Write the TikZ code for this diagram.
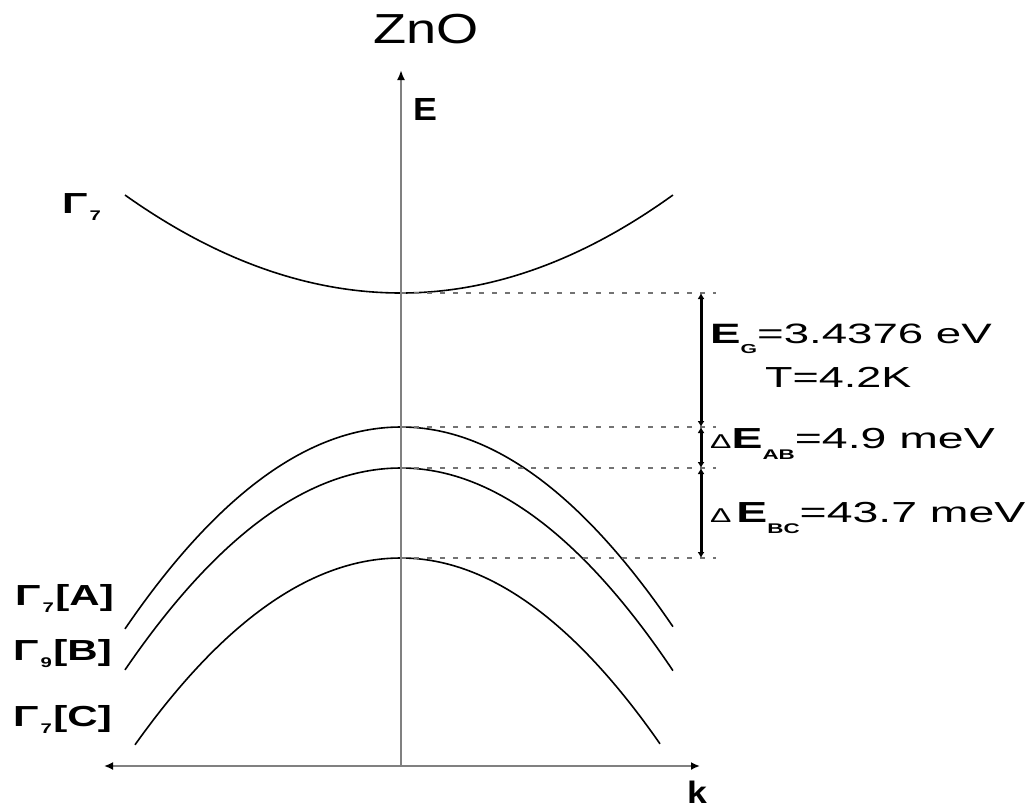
\documentclass[tikz,border=0pt]{standalone}
\usepackage{fontspec}
\setmainfont{Liberation Sans}
\usetikzlibrary{arrows.meta}
\newcommand{\fs}[1]{\fontsize{#1}{#1}\selectfont}
\newcommand{\gam}[2]{\scalebox{1.45}[1]{\fs{29}\bfseries Γ\kern1.5pt\raisebox{-7pt}{\fs{14}#1}\kern1pt#2}}
\begin{document}
\begin{tikzpicture}[x=1pt,y=-1pt,
  band/.style={line width=1.6pt, black},
  axis/.style={line width=2.4pt, black!50},
  axtip/.style={line width=2.4pt, black!50, {Latex[length=9pt,width=8pt,black]}-{Latex[length=9pt,width=8pt,black]}},
  gap/.style={line width=3pt, black, {Latex[length=6pt,width=7pt]}-{Latex[length=6pt,width=7pt]}},
  guide/.style={line width=1.3pt, black!55, dash pattern=on 5pt off 8pt},
  lbl/.style={inner sep=0pt, anchor=base west},
]
\useasboundingbox (0,0) rectangle (1033,809);

% bands
\draw[band] plot[domain=-2.76:0,samples=50,smooth] ({401+100*\x},{293-12.86*\x*\x})
   -- plot[domain=0:2.72,samples=50,smooth] ({401+100*\x},{293-13.25*\x*\x});
\draw[band] plot[domain=-2.76:0,samples=50,smooth] ({401+100*\x},{427+26.5*\x*\x})
   -- plot[domain=0:2.72,samples=50,smooth] ({401+100*\x},{427+27.0*\x*\x});
\draw[band] plot[domain=-2.76:0,samples=50,smooth] ({401+100*\x},{468+26.5*\x*\x})
   -- plot[domain=0:2.72,samples=50,smooth] ({401+100*\x},{468+27.4*\x*\x});
\draw[band] plot[domain=-2.66:0,samples=50,smooth] ({401+100*\x},{558+26.4*\x*\x})
   -- plot[domain=0:2.59,samples=50,smooth] ({401+100*\x},{558+27.7*\x*\x});

% band extrema and gap markers
\coordinate (cb) at (401,293);
\coordinate (va) at (401,427);
\coordinate (vb) at (401,468);
\coordinate (vc) at (401,558);
\coordinate (cbR) at (716,293);
\coordinate (vaR) at (716,427);
\coordinate (vbR) at (716,468);
\coordinate (vcR) at (716,558);
\coordinate (gT) at (701,293);
\coordinate (gA) at (701,427);
\coordinate (gB) at (701,468);
\coordinate (gC) at (701,558);

\draw[guide] (cb) -- (cbR);
\draw[guide] (va) -- (vaR);
\draw[guide] (vb) -- (vbR);
\draw[guide] (vc) -- (vcR);

\draw[gap] (gT) -- (gA);
\draw[gap] (gA) -- (gB);
\draw[gap] (gB) -- (gC);

% axes
\coordinate (origin) at (401,766);
\coordinate (etop) at (401,70);
\coordinate (kleft) at (104,766);
\coordinate (kright) at (700,766);
\draw[axis,-{Latex[length=10pt,width=8pt,black]}] (origin) -- (etop);
\draw[axtip] (kleft) -- (kright);

% labels
\node[lbl] (title) at (373,43) {\scalebox{1.29}[1]{\fs{42}ZnO}};
\node[lbl] (elab) at (413,120) {\scalebox{1.12}[1]{\fs{32}\bfseries E}};
\node[lbl] (klab) at (687,803) {\scalebox{1.15}[1]{\fs{31}\bfseries k}};

\node[lbl] (gc) at (62,213) {\gam{7}{}};
\node[lbl] (ga) at (15,605) {\gam{7}{[A]}};
\node[lbl] (gb) at (13,660) {\gam{9}{[B]}};
\node[lbl] (gcc) at (13,726) {\gam{7}{[C]}};

\node[lbl] (eg) at (710,343) {\scalebox{1.63}[1]{\fs{28}\textbf{E}\raisebox{-10pt}{\fs{13}\bfseries G}=3.4376 eV}};
\node[lbl] (temp) at (765,387) {\scalebox{1.55}[1]{\fs{29}T=4.2K}};
\node[lbl] (eab) at (710,448) {\scalebox{1.6}[1]{\fs{29}{\fs{20}Δ}\textbf{E}\raisebox{-11pt}{\fs{14}\bfseries AB}=4.9 meV}};
\node[lbl] (ebc) at (710,522) {\scalebox{1.6}[1]{\fs{29}{\fs{20}Δ}\kern3pt\textbf{E}\raisebox{-11pt}{\fs{14}\bfseries BC}=43.7 meV}};
\end{tikzpicture}
\end{document}
